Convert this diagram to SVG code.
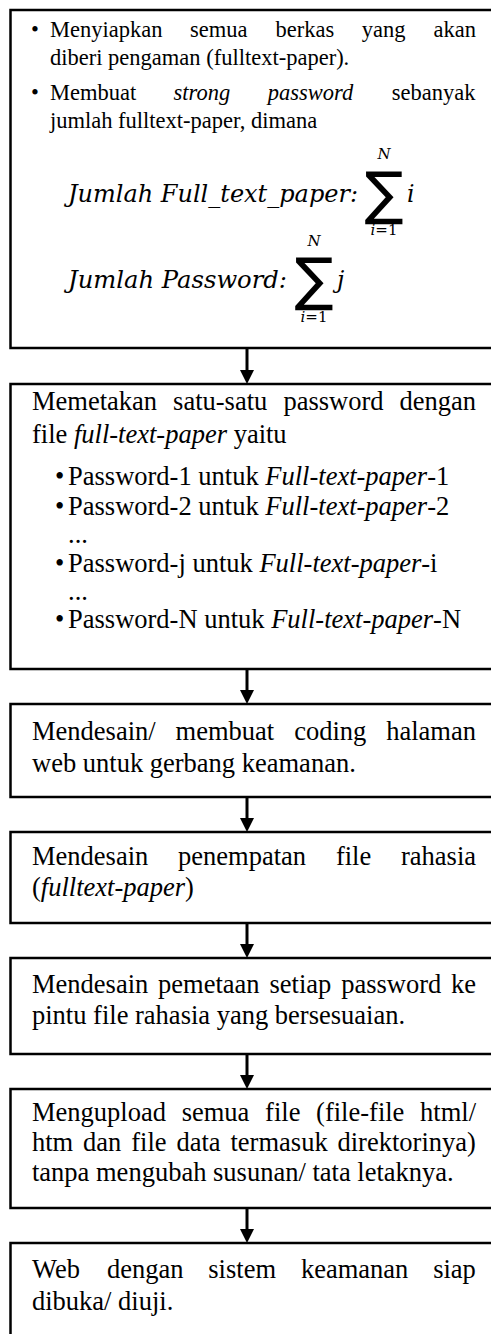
<svg xmlns="http://www.w3.org/2000/svg" width="491" height="1334" viewBox="0 0 491 1334">
<style>
.box{fill:#fff;stroke:#000;stroke-width:2.5}
.t{font-family:"Liberation Serif","Times New Roman",serif;font-size:26.5px;fill:#000}
.s{font-size:22.5px}
.i{font-style:italic}
.m{font-family:"DejaVu Serif",serif;font-style:italic;fill:#000}
.sum{font-family:"DejaVu Sans",sans-serif;fill:#000}
.c{stroke:#000;stroke-width:3;fill:none}
</style>
<defs>
<marker id="ah" viewBox="0 0 14 14" refX="6" refY="7" markerWidth="14" markerHeight="14" markerUnits="userSpaceOnUse" orient="auto">
<path d="M0,0 L14,7 L0,14 Z" fill="#000"/>
</marker>
</defs>
<rect width="491" height="1334" fill="#fff"/>

<g id="n1">
<rect class="box" x="10.5" y="10" width="495" height="338"/>
<g class="t s">
<text x="31" y="37">•</text>
<text y="37"><tspan x="50">Menyiapkan</tspan><tspan x="190">semua</tspan><tspan x="275.5">berkas</tspan><tspan x="361.8">yang</tspan><tspan x="433.5">akan</tspan></text>
<text x="50" y="65">diberi pengaman (fulltext-paper).</text>
<text x="31" y="100">•</text>
<text y="100"><tspan x="50">Membuat</tspan><tspan x="173.5" class="i">strong</tspan><tspan x="267.7" class="i">password</tspan><tspan x="391.7">sebanyak</tspan></text>
<text x="50" y="128">jumlah fulltext-paper, dimana</text>
</g>
<text class="m" x="68" y="202" font-size="23.5" textLength="290" lengthAdjust="spacingAndGlyphs">Jumlah Full_text_paper:</text>
<text class="sum" x="384" y="213" font-size="58" text-anchor="middle">∑</text>
<text class="m" x="384" y="159" font-size="15" text-anchor="middle">N</text>
<text class="m" x="384" y="235" font-size="15" text-anchor="middle">i<tspan font-style="normal">=1</tspan></text>
<text class="m" x="407" y="202" font-size="23.5">i</text>
<text class="m" x="68" y="288" font-size="23.5" textLength="219" lengthAdjust="spacingAndGlyphs">Jumlah Password:</text>
<text class="sum" x="314" y="299" font-size="58" text-anchor="middle">∑</text>
<text class="m" x="314" y="246" font-size="15" text-anchor="middle">N</text>
<text class="m" x="314" y="322" font-size="15" text-anchor="middle">i<tspan font-style="normal">=1</tspan></text>
<text class="m" x="337" y="288" font-size="23.5">j</text>
</g>

<g id="n2">
<rect class="box" x="10.5" y="384" width="495" height="285"/>
<g class="t">
<text y="410"><tspan x="32">Memetakan</tspan><tspan x="173.1">satu-satu</tspan><tspan x="283.4">password</tspan><tspan x="399.5">dengan</tspan></text>
<text x="32" y="443">file <tspan class="i">full-text-paper</tspan> yaitu</text>
<text x="55" y="485">•</text>
<text x="68" y="485">Password-1 untuk <tspan class="i">Full-text-paper</tspan>-1</text>
<text x="55" y="515">•</text>
<text x="68" y="515">Password-2 untuk <tspan class="i">Full-text-paper</tspan>-2</text>
<text x="68" y="543">...</text>
<text x="55" y="572">•</text>
<text x="68" y="572">Password-j untuk <tspan class="i">Full-text-paper</tspan>-i</text>
<text x="68" y="600">...</text>
<text x="55" y="628">•</text>
<text x="68" y="628">Password-N untuk <tspan class="i">Full-text-paper</tspan>-N</text>
</g>
</g>

<g id="n3">
<rect class="box" x="10.5" y="704" width="495" height="93"/>
<g class="t">
<text y="740"><tspan x="32">Mendesain/</tspan><tspan x="175.6">membuat</tspan><tspan x="294.2">coding</tspan><tspan x="386.2">halaman</tspan></text>
<text x="32" y="772">web untuk gerbang keamanan.</text>
</g>
</g>

<g id="n4">
<rect class="box" x="10.5" y="832" width="495" height="91"/>
<g class="t">
<text y="865"><tspan x="32">Mendesain</tspan><tspan x="178.1">penempatan</tspan><tspan x="335.9">file</tspan><tspan x="401">rahasia</tspan></text>
<text x="32" y="896">(<tspan class="i">fulltext-paper</tspan>)</text>
</g>
</g>

<g id="n5">
<rect class="box" x="10.5" y="958" width="495" height="96"/>
<g class="t">
<text y="993"><tspan x="32">Mendesain</tspan><tspan x="158.1">pemetaan</tspan><tspan x="269.5">setiap</tspan><tspan x="341.2">password</tspan><tspan x="451.1">ke</tspan></text>
<text x="32" y="1024">pintu file rahasia yang bersesuaian.</text>
</g>
</g>

<g id="n6">
<rect class="box" x="10.5" y="1089" width="495" height="119"/>
<g class="t">
<text y="1121"><tspan x="32">Mengupload</tspan><tspan x="181.7">semua</tspan><tspan x="265.1">file</tspan><tspan x="316.1">(file-file</tspan><tspan x="420.1">html/</tspan></text>
<text y="1151"><tspan x="32">htm</tspan><tspan x="83.1">dan</tspan><tspan x="131.3">file</tspan><tspan x="176.5">data</tspan><tspan x="230.5">termasuk</tspan><tspan x="337.5">direktorinya)</tspan></text>
<text x="32" y="1181">tanpa mengubah susunan/ tata letaknya.</text>
</g>
</g>

<g id="n7">
<rect class="box" x="10.5" y="1243" width="495" height="110"/>
<g class="t">
<text y="1278"><tspan x="32">Web</tspan><tspan x="106.9">dengan</tspan><tspan x="208.3">sistem</tspan><tspan x="300.9">keamanan</tspan><tspan x="433.2">siap</tspan></text>
<text x="32" y="1310">dibuka/ diuji.</text>
</g>
</g>

<g id="connectors">
<line class="c" x1="247" y1="349" x2="247" y2="376" marker-end="url(#ah)"/>
<line class="c" x1="247" y1="670" x2="247" y2="696" marker-end="url(#ah)"/>
<line class="c" x1="247" y1="798" x2="247" y2="824" marker-end="url(#ah)"/>
<line class="c" x1="247" y1="924" x2="247" y2="950" marker-end="url(#ah)"/>
<line class="c" x1="247" y1="1055" x2="247" y2="1081" marker-end="url(#ah)"/>
<line class="c" x1="247" y1="1209" x2="247" y2="1235" marker-end="url(#ah)"/>
</g>
</svg>
